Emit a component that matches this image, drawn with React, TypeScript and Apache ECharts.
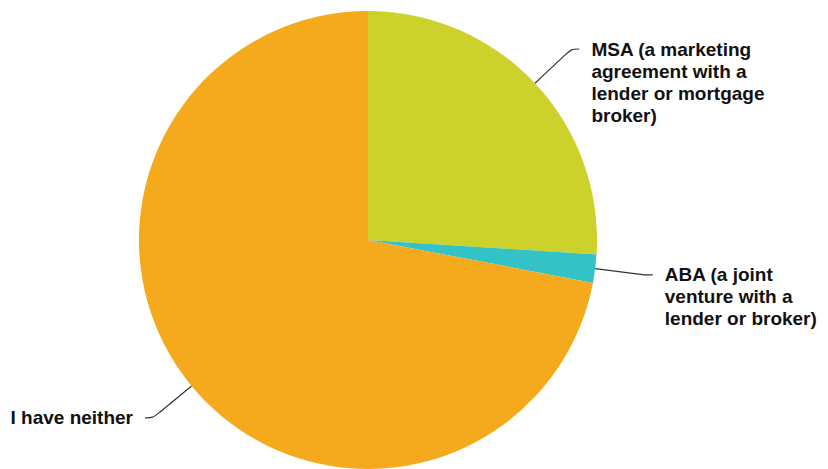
import React, { useEffect, useRef } from "react";
import * as echarts from "echarts";

const categories = [
  "MSA (a marketing agreement with a lender or mortgage broker)",
  "ABA (a joint venture with a lender or broker)",
  "I have neither",
];
const values = [26.0, 2.0, 72.0];
const labelLines = [
  ["MSA (a marketing", "agreement with a", "lender or mortgage", "broker)"],
  ["ABA (a joint", "venture with a", "lender or broker)"],
  ["I have neither"],
];
const colors = ["#CCD22B", "#33C2C5", "#F5AA1D"];

export default function App() {
  const ref = useRef<HTMLDivElement>(null);
  useEffect(() => {
    if (!ref.current) return;
    const chart = echarts.init(ref.current, undefined, { renderer: "svg" });
    const LH = 22;
    chart.setOption({
      animation: false,
      backgroundColor: "#ffffff",
      series: [
        {
          type: "pie",
          center: [368, 240],
          radius: 229,
          startAngle: 90,
          clockwise: true,
          avoidLabelOverlap: false,
          data: categories.map((name, i) => ({
            name,
            value: values[i],
            itemStyle: { color: colors[i] },
            label: { formatter: labelLines[i].join("\n") },
          })),
          label: {
            show: true,
            position: "outside",
            color: "#111111",
            fontFamily: "Liberation Sans, Arial, sans-serif",
            fontWeight: "bold",
            fontSize: 19,
            lineHeight: LH,
            distanceToLabelLine: 12,
          },
          labelLine: {
            show: true,
            length: 50,
            length2: 8,
            smooth: 0.3,
            lineStyle: { color: "#333333", width: 1.2 },
          },
          labelLayout: (p: any) => {
            const pts = p.labelLinePoints;
            if (!pts || pts.length < 2) return {};
            const end = pts[pts.length - 1];
            const start = pts[0];
            const isLeft = end[0] < start[0];
            return {
              x: isLeft ? end[0] - 12 : end[0] + 12,
              y: end[1] - LH / 2,
              align: isLeft ? "right" : "left",
              verticalAlign: "top",
              labelLinePoints: pts,
            };
          },
          emphasis: { disabled: true },
        },
      ],
    });
    return () => chart.dispose();
  }, []);
  return (
    <div
      ref={ref}
      style={{ position: "absolute", left: 0, top: 0, width: 828, height: 469 }}
    />
  );
}
